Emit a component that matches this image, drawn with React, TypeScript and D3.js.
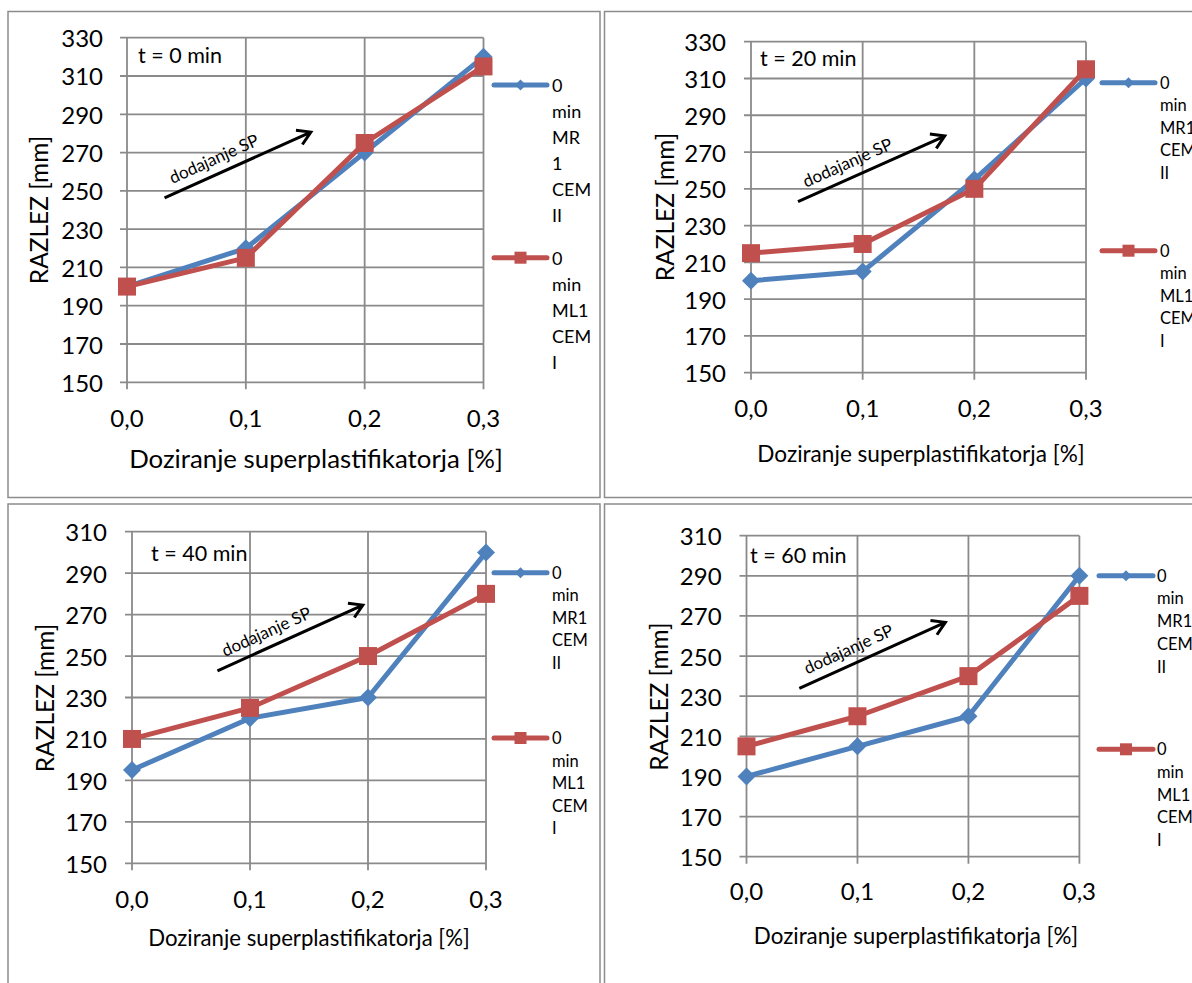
import React from "react";
import * as d3 from "d3";

const CATEGORIES = [0, 0.1, 0.2, 0.3];
const X_TICK_LABELS = ["0,0", "0,1", "0,2", "0,3"];
const Y_TICKS_TOP = [150, 170, 190, 210, 230, 250, 270, 290, 310, 330];
const Y_TICKS_BOTTOM = [150, 170, 190, 210, 230, 250, 270, 290, 310];

const MR1_T0 = [200, 220, 270, 320];
const ML1_T0 = [200, 215, 275, 315];
const MR1_T20 = [200, 205, 255, 310];
const ML1_T20 = [215, 220, 250, 315];
const MR1_T40 = [195, 220, 230, 300];
const ML1_T40 = [210, 225, 250, 280];
const MR1_T60 = [190, 205, 220, 290];
const ML1_T60 = [205, 220, 240, 280];

const PANEL_LABELS = ["t = 0 min", "t = 20 min", "t = 40 min", "t = 60 min"];
const LEGEND_MR = [
  ["0", "min", "MR", "1", "CEM", "II"],
  ["0", "min", "MR1", "CEM", "II"],
  ["0", "min", "MR1", "CEM", "II"],
  ["0", "min", "MR1", "CEM", "II"],
];
const LEGEND_ML = ["0", "min", "ML1", "CEM", "I"];
const X_TITLE = "Doziranje superplastifikatorja [%]";
const Y_TITLE = "RAZLEZ [mm]";
const ARROW_TEXT = "dodajanje SP";
// arrow annotation in data coordinates: [x0, y0, x1, y1]
const ARROWS = [
  [0.0316, 246.3, 0.1547, 280.7],
  [0.0421, 243.0, 0.1735, 278.7],
  [0.0724, 242.9, 0.1956, 274.6],
  [0.0476, 233.9, 0.1792, 266.8],
];

const BLUE = "#4F81BD";
const RED = "#C0504D";
const GRID = "#8a8a8a";
const FONT = "Lato, 'Open Sans', sans-serif";

const PANELS = [
  {
    box: [8, 11.5, 592, 486], x0: 127, x1: 483.5, yTop: 37.7, yBot: 382.3, yMax: 330, yTicks: Y_TICKS_TOP,
    tickRight: 103, xLabY: 417, titleX: 316, titleY: 458, titleSize: 25.8, yTitleX: 38, yTitleY: 210,
    tX: 138, tY: 55, legL: 494, legR: 547, legText: 552, blueY: 85, redY: 257.7, lh: 26, legSize: 18,
    mr: MR1_T0, ml: ML1_T0,
  },
  {
    box: [604.5, 11.5, 700, 486], x0: 751, x1: 1086, yTop: 41.7, yBot: 372.7, yMax: 330, yTicks: Y_TICKS_TOP,
    tickRight: 726, xLabY: 407, titleX: 921, titleY: 453, titleSize: 22.6, yTitleX: 664, yTitleY: 207,
    tX: 760, tY: 58, legL: 1102, legR: 1155, legText: 1160, blueY: 82.7, redY: 250.7, lh: 22.5, legSize: 16.5,
    mr: MR1_T20, ml: ML1_T20,
  },
  {
    box: [8, 504, 592, 600], x0: 132, x1: 486, yTop: 531.7, yBot: 863.3, yMax: 310, yTicks: Y_TICKS_BOTTOM,
    tickRight: 107, xLabY: 898, titleX: 309, titleY: 937, titleSize: 22.2, yTitleX: 44, yTitleY: 698,
    tX: 151, tY: 552.7, legL: 494, legR: 547, legText: 552, blueY: 572.7, redY: 738, lh: 22.5, legSize: 16.5,
    mr: MR1_T40, ml: ML1_T40,
  },
  {
    box: [604.5, 504, 700, 600], x0: 746.5, x1: 1079.4, yTop: 535.7, yBot: 856.7, yMax: 310, yTicks: Y_TICKS_BOTTOM,
    tickRight: 721.6, xLabY: 890, titleX: 916, titleY: 935, titleSize: 22.4, yTitleX: 658.5, yTitleY: 696.7,
    tX: 750, tY: 555, legL: 1099, legR: 1153, legText: 1157, blueY: 575.7, redY: 749.3, lh: 22.7, legSize: 16.5,
    mr: MR1_T60, ml: ML1_T60,
  },
];

function Diamond({ cx, cy, r, fill }: any) {
  return <path d={`M${cx},${cy - r}L${cx + r},${cy}L${cx},${cy + r}L${cx - r},${cy}Z`} fill={fill} />;
}

function Panel({ p, i }: any) {
  const x = d3.scaleLinear().domain([0, 0.3]).range([p.x0, p.x1]);
  const y = d3.scaleLinear().domain([150, p.yMax]).range([p.yBot, p.yTop]);
  const line = d3.line<number>().x((_, k) => x(CATEGORIES[k])).y((v) => y(v));
  const [ax0, ay0, ax1, ay1] = ARROWS[i];
  const sx = x(ax0), sy = y(ay0), ex = x(ax1), ey = y(ay1);
  const ang = Math.atan2(ey - sy, ex - sx);
  const deg = (ang * 180) / Math.PI;
  const hl = 15, ha = 0.55;
  const h1 = [ex - hl * Math.cos(ang - ha), ey - hl * Math.sin(ang - ha)];
  const h2 = [ex - hl * Math.cos(ang + ha), ey - hl * Math.sin(ang + ha)];
  const tf = 0.38;
  const mx = sx + (ex - sx) * tf, my = sy + (ey - sy) * tf;
  const off = 16;
  const tx = mx + off * Math.sin(ang), ty = my - off * Math.cos(ang);
  const [bx, by, bw, bh] = p.box;
  const mrLines = LEGEND_MR[i];
  return (
    <g>
      <rect x={bx} y={by} width={bw} height={bh} fill="#fff" stroke="#8c8c8c" strokeWidth={1.5} />
      {p.yTicks.map((t: number) => (
        <line key={"h" + t} x1={p.x0 - 7} x2={p.x1} y1={y(t)} y2={y(t)} stroke={GRID} strokeWidth={1.8} />
      ))}
      {CATEGORIES.map((c) => (
        <line key={"v" + c} x1={x(c)} x2={x(c)} y1={p.yTop} y2={p.yBot + 7} stroke={GRID} strokeWidth={1.8} />
      ))}
      {p.yTicks.map((t: number) => (
        <text key={"yl" + t} x={p.tickRight} y={y(t)} textAnchor="end" dominantBaseline="central" fontSize={24} fill="#000">
          {t}
        </text>
      ))}
      {CATEGORIES.map((c, k) => (
        <text key={"xl" + c} x={x(c)} y={p.xLabY} textAnchor="middle" dominantBaseline="central" fontSize={24} fill="#000">
          {X_TICK_LABELS[k]}
        </text>
      ))}
      <text x={p.titleX} y={p.titleY} textAnchor="middle" dominantBaseline="central" fontSize={p.titleSize}>
        {X_TITLE}
      </text>
      <text
        transform={`translate(${p.yTitleX},${p.yTitleY}) rotate(-90)`}
        textAnchor="middle"
        dominantBaseline="central"
        fontSize={24.5}
      >
        {Y_TITLE}
      </text>
      <text x={p.tX} y={p.tY} dominantBaseline="central" fontSize={21.5}>
        {PANEL_LABELS[i]}
      </text>
      <path d={`M${sx},${sy}L${ex},${ey}M${h1[0]},${h1[1]}L${ex},${ey}L${h2[0]},${h2[1]}`} fill="none" stroke="#000" strokeWidth={3} />
      <text
        transform={`translate(${tx},${ty}) rotate(${deg})`}
        textAnchor="middle"
        dominantBaseline="central"
        fontSize={17}
      >
        {ARROW_TEXT}
      </text>
      <path d={line(p.mr) || ""} fill="none" stroke={BLUE} strokeWidth={5} strokeLinejoin="round" />
      {p.mr.map((v: number, k: number) => (
        <Diamond key={"d" + k} cx={x(CATEGORIES[k])} cy={y(v)} r={9} fill={BLUE} />
      ))}
      <path d={line(p.ml) || ""} fill="none" stroke={RED} strokeWidth={5} strokeLinejoin="round" />
      {p.ml.map((v: number, k: number) => (
        <rect key={"s" + k} x={x(CATEGORIES[k]) - 9} y={y(v) - 9} width={18} height={18} fill={RED} />
      ))}
      <line x1={p.legL} x2={p.legR} y1={p.blueY} y2={p.blueY} stroke={BLUE} strokeWidth={5} strokeLinecap="round" />
      <Diamond cx={(p.legL + p.legR) / 2} cy={p.blueY} r={5.5} fill={BLUE} />
      <line x1={p.legL} x2={p.legR} y1={p.redY} y2={p.redY} stroke={RED} strokeWidth={5} strokeLinecap="round" />
      <rect x={(p.legL + p.legR) / 2 - 6} y={p.redY - 6} width={12} height={12} fill={RED} />
      {mrLines.map((s: string, k: number) => (
        <text key={"lb" + k} x={p.legText} y={p.blueY + k * p.lh} dominantBaseline="central" fontSize={p.legSize}>
          {s}
        </text>
      ))}
      {LEGEND_ML.map((s: string, k: number) => (
        <text key={"lr" + k} x={p.legText} y={p.redY + k * p.lh} dominantBaseline="central" fontSize={p.legSize}>
          {s}
        </text>
      ))}
    </g>
  );
}

export default function App() {
  return (
    <svg
      width={1192}
      height={983}
      style={{ position: "absolute", left: 0, top: 0, fontFamily: FONT, background: "#fff" }}
    >
      <rect x={0} y={0} width={1192} height={983} fill="#fff" />
      {PANELS.map((p, i) => (
        <Panel key={i} p={p} i={i} />
      ))}
    </svg>
  );
}
